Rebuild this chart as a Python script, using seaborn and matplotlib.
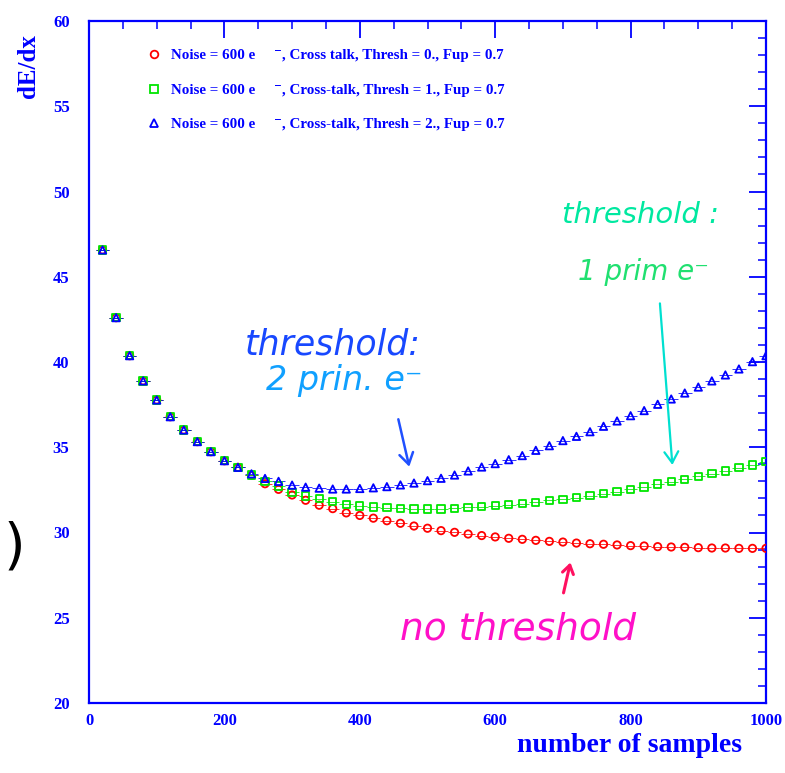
import numpy as np
import pandas as pd
import matplotlib
matplotlib.use("Agg")
import matplotlib.pyplot as plt
import seaborn as sns
from matplotlib.lines import Line2D

# ---------------- data ----------------
samples = list(range(20, 1001, 20))

common = [46.57, 42.60, 40.37, 38.89, 37.77, 36.79, 36.01, 35.33, 34.74, 34.21, 33.82]

red_vals = common + [33.35, 32.86, 32.53, 32.20, 31.89, 31.60, 31.40, 31.15, 31.00, 30.84,
                     30.69, 30.54, 30.38, 30.25, 30.11, 30.01, 29.91, 29.82, 29.74, 29.66,
                     29.60, 29.54, 29.48, 29.44, 29.38, 29.34, 29.31, 29.27, 29.23, 29.21,
                     29.17, 29.15, 29.13, 29.11, 29.09, 29.09, 29.07, 29.07, 29.07]

green_vals = common + [33.38, 33.00, 32.72, 32.35, 32.15, 31.98, 31.80, 31.66, 31.56, 31.50,
                       31.45, 31.41, 31.38, 31.38, 31.38, 31.42, 31.48, 31.52, 31.57, 31.63,
                       31.69, 31.77, 31.89, 31.95, 32.04, 32.16, 32.28, 32.39, 32.53, 32.67,
                       32.84, 32.98, 33.12, 33.30, 33.45, 33.61, 33.80, 33.96, 34.15]

blue_vals = common + [33.44, 33.17, 33.00, 32.78, 32.66, 32.60, 32.55, 32.55, 32.58, 32.62,
                      32.69, 32.79, 32.90, 33.04, 33.18, 33.37, 33.61, 33.84, 34.04, 34.27,
                      34.51, 34.82, 35.09, 35.39, 35.64, 35.91, 36.23, 36.54, 36.85, 37.15,
                      37.52, 37.83, 38.18, 38.53, 38.89, 39.24, 39.59, 40.02, 40.37]

labels = ["Noise = 600 e     \u207b, Cross talk, Thresh = 0., Fup = 0.7",
          "Noise = 600 e     \u207b, Cross-talk, Thresh = 1., Fup = 0.7",
          "Noise = 600 e     \u207b, Cross-talk, Thresh = 2., Fup = 0.7"]

x_ticks = [0, 200, 400, 600, 800, 1000]
y_ticks = [20, 25, 30, 35, 40, 45, 50, 55, 60]

# ---------------- style ----------------
sns.set_style("white")
plt.rcParams['font.family'] = ['Liberation Serif', 'DejaVu Serif']
plt.rcParams['font.weight'] = 'bold'

AX = "#0000ff"
series = [(red_vals, "#ff0000", "o"), (green_vals, "#00e600", "s"), (blue_vals, "#0000ff", "^")]

fig = plt.figure(figsize=(7.85, 7.73), dpi=100)
ax = fig.add_axes([89/785, 1-703/773, (766-89)/785, (703-21)/773])

handles = []
for (vals, col, mk), lab in zip(series, labels):
    df = pd.DataFrame({"n": samples, "dEdx": vals})
    ax.errorbar(df["n"], df["dEdx"], xerr=10, fmt="none", ecolor=col, elinewidth=0.7,
                capsize=0, alpha=0.8, zorder=2)
    sns.scatterplot(data=df, x="n", y="dEdx", ax=ax, marker=mk, s=28,
                    facecolor="none", edgecolor=col, linewidth=1.3, zorder=3, legend=False)
    handles.append(Line2D([], [], ls="none", marker=mk, markersize=5.5, markerfacecolor="none",
                          markeredgecolor=col, markeredgewidth=1.3))

ax.set_xlim(0, 1000)
ax.set_ylim(20, 60)
ax.set_xticks(x_ticks)
ax.set_yticks(y_ticks)
ax.set_xticks(np.arange(0, 1001, 50), minor=True)
ax.set_yticks(np.arange(20, 61, 1), minor=True)
ax.tick_params(axis="both", which="major", direction="in", length=12, width=1.3, color=AX,
               labelcolor=AX, labelsize=12, top=True, right=True)
ax.tick_params(axis="y", which="major", pad=14)
ax.tick_params(axis="x", which="major", pad=7)
ax.tick_params(axis="both", which="minor", direction="in", length=6, width=1.1, color=AX,
               top=True, right=True)
for lab in ax.get_xticklabels() + ax.get_yticklabels():
    lab.set_fontweight("bold")
for sp in ax.spines.values():
    sp.set_color(AX)
    sp.set_linewidth(1.6)

ax.set_xlabel("")
ax.set_ylabel("")
fig.text(742/785, 1-746/773, "number of samples", ha="right", va="center", color=AX,
         fontsize=20, fontweight="bold")
fig.text(28/785, 1-66/773, "dE/dx", ha="center", va="center", rotation=90, color=AX,
         fontsize=18, fontweight="bold")

leg = ax.legend(handles, labels, loc="upper left", bbox_to_anchor=(0.072, 0.97), frameon=False,
                fontsize=10.8, labelspacing=1.4, handlelength=1.2, handletextpad=0.55, borderpad=0)
for t in leg.get_texts():
    t.set_color(AX)
    t.set_fontweight("bold")

# ---------------- handwritten annotations ----------------
hw = dict(fontstyle="italic", fontweight="normal", family=["DejaVu Sans"])
ax.text(230, 41.0, "threshold:", color="#1848ff", fontsize=25, va="center", ha="left", **hw)
ax.text(262, 38.9, "2 prin. e\u207b", color="#10a0ff", fontsize=24, va="center", ha="left", **hw)
ax.annotate("", xy=(474, 33.7), xytext=(456, 36.8),
            arrowprops=dict(arrowstyle="->,head_length=0.8,head_width=0.5", color="#2050ff", lw=1.8))

ax.text(698, 48.6, "threshold :", color="#00e8a0", fontsize=21, va="center", ha="left", **hw)
ax.text(722, 45.3, "1 prim e\u207b", color="#20e070", fontsize=20, va="center", ha="left", **hw)
ax.annotate("", xy=(862, 33.8), xytext=(843, 43.6),
            arrowprops=dict(arrowstyle="->,head_length=0.8,head_width=0.5", color="#00e0d0", lw=1.6))

ax.text(459, 24.3, "no threshold", color="#ff10c8", fontsize=27, va="center", ha="left", **hw)
ax.annotate("", xy=(712, 28.4), xytext=(700, 26.3),
            arrowprops=dict(arrowstyle="->,head_length=0.6,head_width=0.4", color="#ff1060", lw=2.2))

fig.text(0.004, 1-548/773, ")", color="black", fontsize=40, va="center", ha="left",
         family=["DejaVu Sans"], fontweight="normal")

fig.savefig("out.png", dpi=100)
